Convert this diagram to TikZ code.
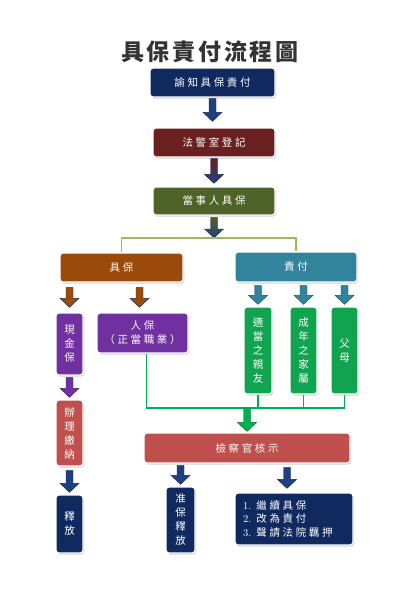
\documentclass[tikz,border=0pt]{standalone}
\usepackage{fontspec}
\newfontfamily\cjk{Noto Sans CJK TC}[LetterSpace=25]
\newfontfamily\cjkt{Noto Sans CJK TC}[LetterSpace=12]
\usetikzlibrary{calc,shadows}
\definecolor{navy}{HTML}{102A60}
\definecolor{darkred}{HTML}{6B2020}
\definecolor{olive}{HTML}{4F6228}
\definecolor{brownb}{HTML}{9A4A0A}
\definecolor{tealb}{HTML}{31849B}
\definecolor{purpleb}{HTML}{7030A0}
\definecolor{greenb}{HTML}{12A350}
\definecolor{redb}{HTML}{C0504D}
\definecolor{arrblue}{HTML}{1F3F7F}
\definecolor{oline}{HTML}{9BBB59}
\definecolor{gline}{HTML}{00B050}
\definecolor{titlec}{HTML}{333333}
\begin{document}
\begin{tikzpicture}[x=1pt,y=-1pt,
  box/.style={rounded corners=3pt, draw=white, line width=1.2pt, text=white,
    font=\cjk\fontsize{10.5}{14}\selectfont, inner sep=0pt, align=center,
    drop shadow={shadow xshift=1pt, shadow yshift=-1.5pt, opacity=0.35}},
  barrow/.style={to path={let \p1=(\tikztostart),\p2=(\tikztotarget) in
    (\x2-3.5pt,\y1) -- (\x2+3.5pt,\y1) -- (\x2+3.5pt,\y2+9pt) -- (\x2+9.5pt,\y2+9pt)
    -- (\x2,\y2) -- (\x2-9.5pt,\y2+9pt) -- (\x2-3.5pt,\y2+9pt) -- cycle}},
  ab/.style={barrow, fill=arrblue, draw=arrblue!70!black, line width=.4pt},
  olinestyle/.style={draw=oline, line width=1.3pt},
  glinestyle/.style={draw=gline, line width=1.3pt},
]
\useasboundingbox (0,0) rectangle (419,592);
\fill[white] (0,0) rectangle (419,592);

\node[font=\cjkt\bfseries\fontsize{23}{26}\selectfont, text=titlec] (title) at (210,52) {具保責付流程圖};

\node[box, fill=navy, minimum width=125pt, minimum height=29pt] (n1) at (212.5,82.5) {諭知具保責付};
\node[box, fill=darkred, minimum width=122pt, minimum height=29pt] (n2) at (214,142.5) {法警室登記};
\node[box, fill=olive, minimum width=122pt, minimum height=28pt] (n3) at (214,201) {當事人具保};

\node[box, fill=brownb, minimum width=123pt, minimum height=29pt] (jb) at (121.5,267.5) {具保};
\node[box, fill=tealb, minimum width=122pt, minimum height=30pt] (zf) at (296,267) {責付};

\node[box, fill=purpleb, minimum width=27pt, minimum height=62pt] (xj) at (69.5,344) {現\\金\\保};
\node[box, fill=purpleb, minimum width=91pt, minimum height=40pt] (rb) at (142.5,333) {人保\\（正當職業）};

\node[box, fill=greenb, minimum width=28pt, minimum height=87pt] (g1) at (258,350.5) {適\\當\\之\\親\\友};
\node[box, fill=greenb, minimum width=27pt, minimum height=87pt] (g2) at (303.5,350.5) {成\\年\\之\\家\\屬};
\node[box, fill=greenb, minimum width=27pt, minimum height=87pt] (g3) at (344.5,350.5) {父\\母};

\node[box, fill=redb, minimum width=27pt, minimum height=66pt] (bl) at (69.5,433) {辦\\理\\繳\\納};
\node[box, fill=navy, minimum width=27pt, minimum height=58pt] (sf) at (69.5,524) {釋\\放};

\node[box, fill=redb, minimum width=206pt, minimum height=30pt] (jc) at (247,448) {檢察官核示};
\node[box, fill=navy, minimum width=29pt, minimum height=66pt] (zb) at (180.5,520) {准\\保\\釋\\放};
\node[box, fill=navy, minimum width=118pt, minimum height=52pt, text width=102pt, align=left,
  font=\cjk\fontsize{10.5}{13.5}\selectfont] (ls) at (294,519)
  {{\rmfamily 1. }繼續具保\\{\rmfamily 2. }改為責付\\{\rmfamily 3. }聲請法院羈押};

% top arrows
\path[ab] ($(n1.south)+(0,1)$) to ($(n1.south |- n2.north)+(0,-6)$);
\path[barrow, top color=darkred, bottom color=arrblue, draw=arrblue!70!black, line width=.4pt]
  ($(n2.south)+(0,1)$) to ($(n2.south |- n3.north)+(0,-3)$);
\coordinate (tjoin) at (214,238);
\path[barrow, top color=olive, bottom color=arrblue, draw=arrblue!70!black, line width=.4pt]
  ($(n3.south)+(0,2)$) to (tjoin);
\draw[olinestyle] (jb.north) |- (tjoin) -| (zf.north);

% from 具保
\path[barrow, fill=brownb, draw=arrblue!60!black, line width=.4pt]
  ($(jb.south -| xj.north)+(0,5)$) to ($(xj.north)+(0,-5)$);
\path[barrow, fill=brownb, draw=arrblue!60!black, line width=.4pt]
  ($(jb.south -| rb.north)+(-3,5)$) to ($(rb.north)+(-3,-5)$);

% from 責付
\foreach \g in {g1,g2,g3}{
  \path[barrow, fill=tealb, draw=tealb!60!black, line width=.4pt]
    ($(zf.south -| \g.north)+(0,3)$) to ($(\g.north)+(0,-2)$);
}

% left column
\path[barrow, fill=purpleb, draw=purpleb!60!black, line width=.4pt]
  ($(xj.south)+(0,2)$) to ($(bl.north)+(0,-2)$);
\path[ab] ($(bl.south)+(0,4)$) to ($(sf.north)+(0,-2)$);

% green collectors
\coordinate (gjoin) at (247,408);
\draw[glinestyle] ($(rb.south)+(4,0)$) |- (g3.south |- gjoin) -- (g3.south);
\draw[glinestyle] (g1.south) -- (g1.south |- gjoin);
\draw[glinestyle] (g2.south) -- (g2.south |- gjoin);
\path[barrow, fill=gline, draw=gline!60!black, line width=.4pt] (gjoin) to ($(jc.north)+(0,-1)$);

% from 檢察官核示
\path[ab] ($(jc.south -| zb.north)+(0,2)$) to ($(zb.north)+(0,-2)$);
\path[ab] ($(jc.south -| ls.north)+(-7,4)$) to ($(ls.north)+(-7,-4)$);
\end{tikzpicture}
\end{document}
